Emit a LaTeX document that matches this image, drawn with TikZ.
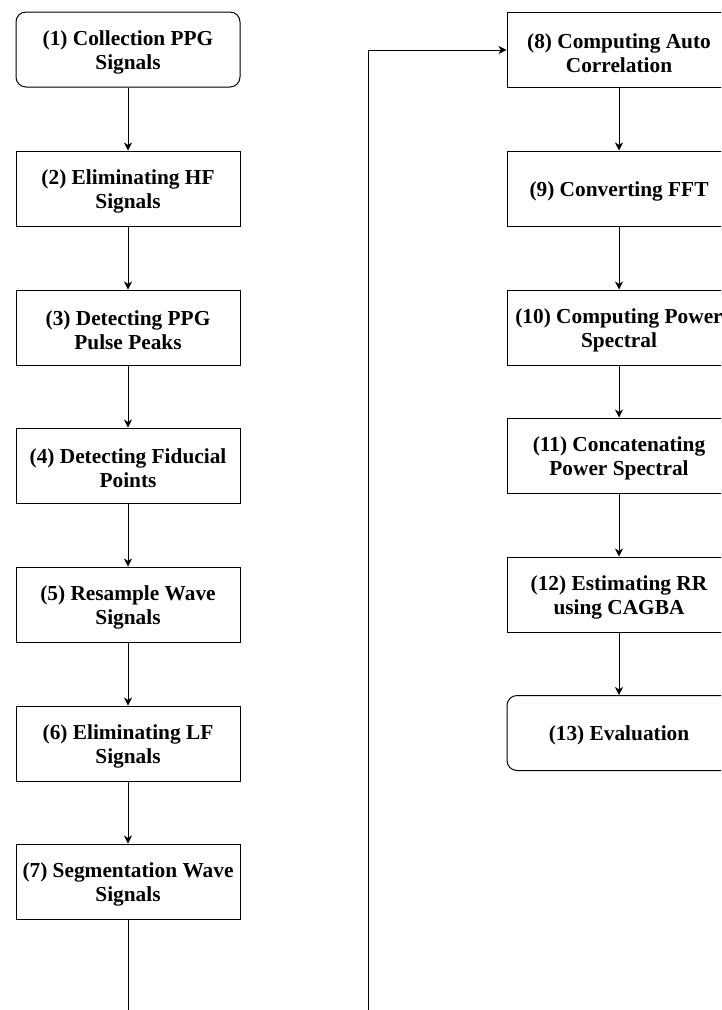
\documentclass[tikz,border=0pt]{standalone}
\usepackage{fontspec}
\setmainfont{Liberation Serif}
\usetikzlibrary{arrows.meta}
\newcommand{\topstrut}{\rule{0pt}{15.2pt}}
\tikzset{
  stepbox/.style={draw=black, line width=0.75pt, fill=white, minimum width=224*0.75pt, minimum height=75*0.75pt,
    inner sep=0pt, align=center, font=\fontsize{16pt}{18pt}\selectfont\bfseries},
  termbox/.style={stepbox, rounded corners=7.5pt},
  arr/.style={draw=black, line width=0.75pt, -{Stealth[length=6pt,width=6pt,inset=1.8pt]}}
}
\begin{document}
\begin{tikzpicture}[x=0.75pt,y=-0.75pt]
\path[use as bounding box] (0,0) rectangle (721,1010);
\clip (0,0) rectangle (721,1010);
% left column
\node[termbox] (n1) at (128,49.5) {\topstrut(1) Collection PPG\\Signals};
\node[stepbox] (n2) at (128,188.5) {\topstrut(2) Eliminating HF\\Signals};
\node[stepbox] (n3) at (128,327.5) {\topstrut(3) Detecting PPG\\Pulse Peaks};
\node[stepbox] (n4) at (128,465.5) {\topstrut(4) Detecting Fiducial\\Points};
\node[stepbox] (n5) at (128,604.5) {\topstrut(5) Resample Wave\\Signals};
\node[stepbox] (n6) at (128,743.5) {\topstrut(6) Eliminating LF\\Signals};
\node[stepbox] (n7) at (128,881.5) {\topstrut(7) Segmentation Wave\\Signals};
% right column
\node[stepbox] (n8) at (619,50) {\topstrut(8) Computing Auto\\Correlation};
\node[stepbox] (n9) at (619,188.5) {\topstrut(9) Converting FFT};
\node[stepbox] (n10) at (619,327.5) {\topstrut(10) Computing Power\\Spectral};
\node[stepbox] (n11) at (619,455.5) {\topstrut(11) Concatenating\\Power Spectral};
\node[stepbox] (n12) at (619,594.5) {\topstrut(12) Estimating RR\\using CAGBA};
\node[termbox] (n13) at (619,733) {\topstrut(13) Evaluation};
% connectors
\draw[arr] (n1) -- (n2);
\draw[arr] (n2) -- (n3);
\draw[arr] (n3) -- (n4);
\draw[arr] (n4) -- (n5);
\draw[arr] (n5) -- (n6);
\draw[arr] (n6) -- (n7);
\coordinate (c1) at (128,1040);
\coordinate (c2) at (368,1040);
\draw[arr] (n7.south) -- (c1) -- (c2) |- (n8.west);
\draw[arr] (n8) -- (n9);
\draw[arr] (n9) -- (n10);
\draw[arr] (n10) -- (n11);
\draw[arr] (n11) -- (n12);
\draw[arr] (n12) -- (n13);
\end{tikzpicture}
\end{document}
